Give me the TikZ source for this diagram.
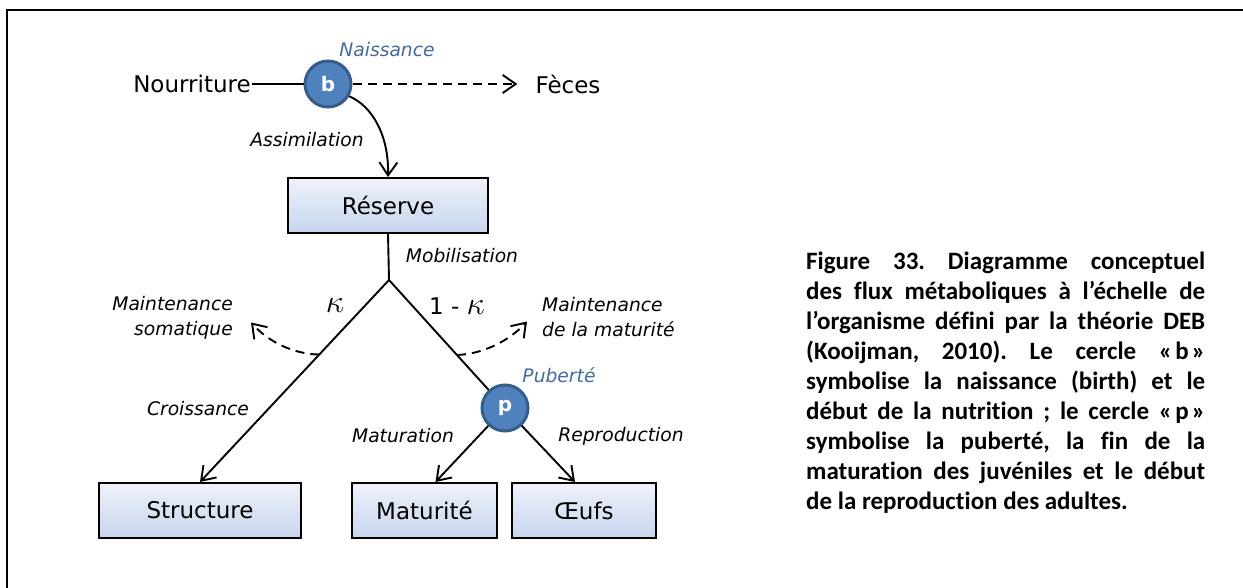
\documentclass[tikz,border=0pt]{standalone}
\usepackage{fontspec}
\usepackage{graphicx}
\setmainfont{DejaVu Sans}
\newfontfamily\capfont[Ligatures=CommonOff]{Carlito}
\usetikzlibrary{arrows.meta,calc}
\definecolor{circfill}{RGB}{79,129,189}
\definecolor{circedge}{RGB}{56,93,138}
\definecolor{labblue}{RGB}{70,106,155}
\definecolor{boxlight}{RGB}{238,242,250}
\definecolor{boxdark}{RGB}{198,213,238}
\newcommand{\kap}{\scalebox{1.3}{$\kappa$}}
\newcommand{\gsp}{\kern3pt}
\tikzset{
  conn/.style={line width=1.9pt},
  arr/.style={conn,-{Straight Barb[length=13pt,width=18pt]}},
  darr/.style={arr,dash pattern=on 9pt off 6pt},
  circ/.style={circle,fill=circfill,draw=circedge,line width=3pt,minimum size=46pt,inner sep=0pt,text=white,font=\bfseries\fontsize{20}{24}\selectfont},
  box/.style={draw,line width=2pt,top color=boxlight,bottom color=boxdark,font=\fontsize{23}{28}\selectfont,minimum height=55pt,inner sep=0pt},
  bigtxt/.style={inner sep=1pt,font=\fontsize{23}{28}\selectfont},
  lab/.style={inner sep=0pt,font=\itshape\fontsize{18.7}{25}\selectfont},
  bluelab/.style={lab,text=labblue},
  caption/.style={inner sep=0pt,text width=399pt,align=justify,font=\capfont\bfseries\fontsize{25}{30}\selectfont},
}
\begin{document}
\begin{tikzpicture}[x=1pt,y=-1pt]
\useasboundingbox (0,0) rectangle (1243,588);
\draw[line width=2.2pt] (7,588) -- (7,10) -- (1243,10);

% top row
\node[bigtxt] (nour) at (192,84) {Nourriture};
\node[circ] (b) at (328,84) {b};
\node[bluelab] (nais) at (387,50) {Naissance};
\node[bigtxt,inner sep=0pt] (feces) at (568,84) {Fèces};
\draw[conn] (nour) -- (b);
\draw[darr,shorten >=18pt] (b) -- (feces);

% reserve
\node[box,minimum width=200pt] (res) at (388,205.5) {Réserve};
\draw[arr] (b.-30) .. controls (372,106) and (389,135) .. (res.north);
\node[lab] (assim) at (307,140) {Assimilation};

% split
\coordinate (apex) at (389,280);
\draw[conn] (res.south) -- (apex);
\node[lab] (mobil) at (462,256) {Mobilisation};
\node[inner sep=0pt,font=\fontsize{24.88}{28}\selectfont] (kap) at (335,306) {\kap};
\node[inner sep=0pt,font=\fontsize{23}{28}\selectfont] (kap2) at (457,306) {1 - \kap};

% bottom boxes
\node[box,minimum width=202pt] (struct) at (200,510.5) {Structure};
\node[box,minimum width=145pt] (mat) at (424.5,510.5) {Maturité};
\node[box,minimum width=144pt] (oeuf) at (584,510.5) {Œufs};

\node[circ] (p) at (505,408) {p};
\node[bluelab] (pub) at (559,375) {Puberté};

\draw[arr] (apex) -- (struct.north);
\draw[conn] (apex) -- (p);
\draw[arr] (p) -- ($(mat.north)+(11,0)$);
\draw[arr] (p) -- ($(oeuf.north)+(-9,0)$);

\node[lab] (crois) at (198,409) {Croissance};
\node[lab] (matu) at (403,436) {Maturation};
\node[lab] (repro) at (621,436) {Reproduction};

% maintenance
\node[lab,align=right,anchor=east] (msom) at (233,317.5) {Maintenance\\somatique};
\node[lab,align=left,anchor=west] (mmat) at (542,317.5) {Maintenance\\de la maturité};
\coordinate (ls) at ($(apex)!0.369!(struct.north)$);
\coordinate (rs) at (457,355);
\draw[darr] (ls) .. controls (292,354) and (268,341) .. ($(msom.east)+(18,5)$);
\draw[darr] (rs) .. controls (484,354) and (510,340) .. ($(mmat.west)+(-15,4)$);

% caption
\node[caption,anchor=north west] (cap) at (806,252) {\frenchspacing\tolerance=10000\hyphenpenalty=10000
Figure 33. Diagramme conceptuel\linebreak
des flux métaboliques à l’échelle de\linebreak
l’organisme défini par la théorie DEB\linebreak
(Kooijman, 2010). Le cercle «\gsp b\gsp»\linebreak
symbolise la naissance (birth) et le\linebreak
début de la nutrition ; le cercle «\gsp p\gsp»\linebreak
symbolise la puberté, la fin de la\linebreak
maturation des juvéniles et le début\linebreak
de la reproduction des adultes.};
\end{tikzpicture}
\end{document}
